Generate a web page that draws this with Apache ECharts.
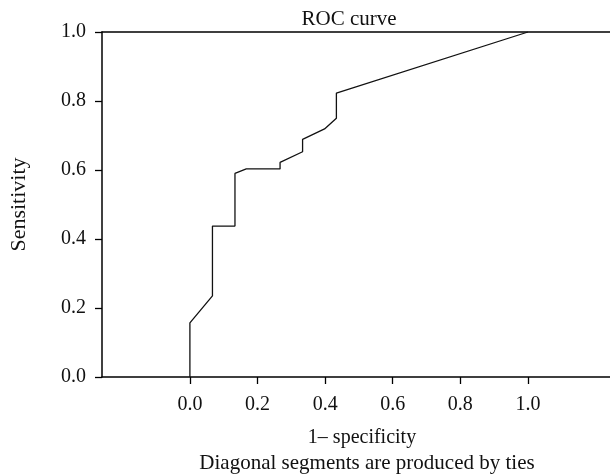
<!DOCTYPE html>
<html>
<head>
<meta charset="utf-8">
<script src="https://cdn.jsdelivr.net/npm/echarts@6/dist/echarts.min.js"></script>
<style>
html,body{margin:0;padding:0;background:#fff;}
#main{width:610px;height:474px;}
</style>
</head>
<body>
<div id="main"></div>
<script>
// 1 - specificity (false positive rate)
var fpr = [0, 0, 0.0667, 0.0667, 0.1333, 0.1333, 0.1667, 0.2667, 0.2667, 0.3333, 0.3333, 0.3983, 0.4333, 0.4333, 1.0];
// sensitivity (true positive rate)
var tpr = [0, 0.157, 0.235, 0.4375, 0.4375, 0.590, 0.603, 0.603, 0.622, 0.653, 0.689, 0.719, 0.750, 0.823, 1.0];
var xTicks = [0, 0.2, 0.4, 0.6, 0.8, 1.0];
var yTicks = [0, 0.2, 0.4, 0.6, 0.8, 1.0];
var titleText = 'ROC curve';
var xName = '1\u2013 specificity';
var xNote = 'Diagonal segments are produced by ties';
var yName = 'Sensitivity';

var FONT = '"Liberation Serif", "Times New Roman", serif';
var points = fpr.map(function (v, i) { return [v, tpr[i]]; });

var chart = echarts.init(document.getElementById('main'), null, {renderer: 'canvas'});
chart.setOption({
  backgroundColor: '#fff',
  animation: false,
  grid: {left: 92.7, right: 0, top: 32, bottom: 97, containLabel: false},
  xAxis: [{
    type: 'value', min: -0.26, max: 1.2426, position: 'bottom',
    axisLine: {show: true, onZero: false, lineStyle: {color: '#000', width: 1.5}},
    axisTick: {show: true, inside: false, length: 7, customValues: xTicks, lineStyle: {color: '#000', width: 1.3}},
    axisLabel: {show: true, customValues: xTicks, margin: 18, color: '#111', fontFamily: FONT, fontSize: 20,
      formatter: function (v) { return v.toFixed(1); }},
    splitLine: {show: false}
  }, {
    type: 'value', min: -0.26, max: 1.2426, position: 'top',
    axisLine: {show: true, onZero: false, lineStyle: {color: '#000', width: 1.5}},
    axisTick: {show: false}, axisLabel: {show: false}, splitLine: {show: false}
  }],
  yAxis: {
    type: 'value', min: 0, max: 1,
    name: yName, nameLocation: 'middle', nameGap: 72, nameRotate: 90,
    nameTextStyle: {color: '#111', fontFamily: FONT, fontSize: 22},
    axisLine: {show: true, onZero: false, lineStyle: {color: '#000', width: 1.5}},
    axisTick: {show: true, inside: false, length: 7, customValues: yTicks, lineStyle: {color: '#000', width: 1.3}},
    axisLabel: {show: true, customValues: yTicks, margin: 16, color: '#111', fontFamily: FONT, fontSize: 20,
      formatter: function (v) { return v.toFixed(1); }},
    splitLine: {show: false}
  },
  graphic: [
    {type: 'text', style: {text: titleText, x: 349, y: 19, align: 'center', verticalAlign: 'middle',
      font: '21px ' + FONT, fill: '#111'}},
    {type: 'text', style: {text: xName, x: 362, y: 438, align: 'center', verticalAlign: 'middle',
      font: '20px ' + FONT, fill: '#111'}},
    {type: 'text', style: {text: xNote, x: 367, y: 463, align: 'center', verticalAlign: 'middle',
      font: '21px ' + FONT, fill: '#111'}}
  ],
  series: [{
    type: 'line', data: points, xAxisIndex: 0, showSymbol: false, symbol: 'none',
    lineStyle: {color: '#111', width: 1.3}, silent: true
  }]
});
</script>
</body>
</html>
